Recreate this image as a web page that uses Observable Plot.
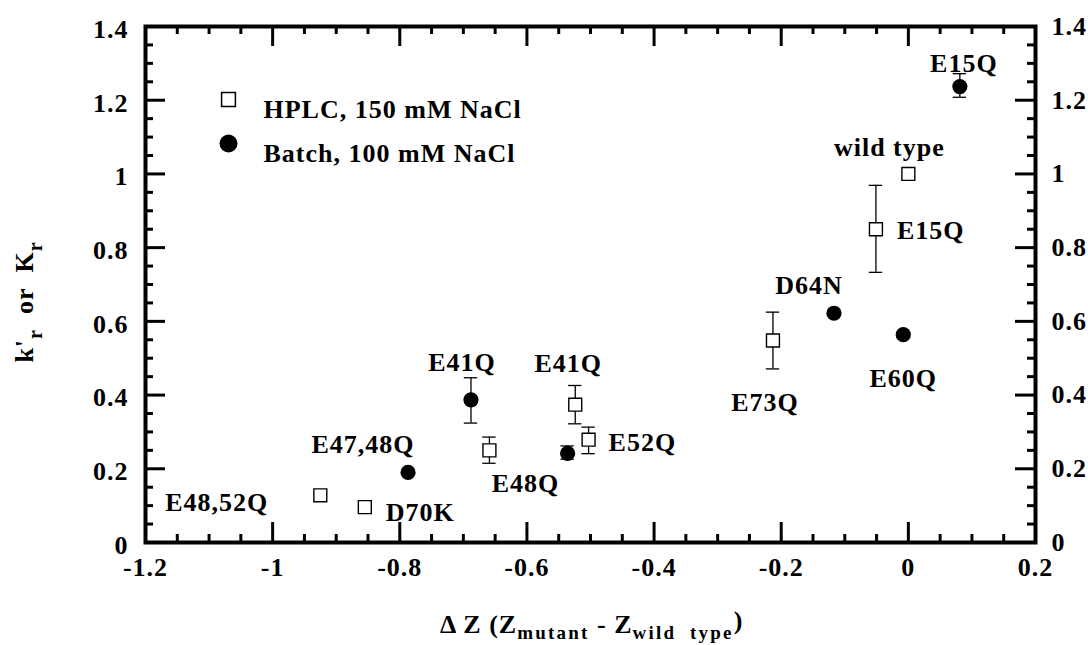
<!DOCTYPE html>
<html>
<head>
<meta charset="utf-8">
<script src="https://cdn.jsdelivr.net/npm/d3@7"></script>
<script src="https://cdn.jsdelivr.net/npm/@observablehq/plot@0.6"></script>
<style>
  html, body { margin: 0; padding: 0; background: white; }
</style>
</head>
<body>
<div id="chart"></div>
<script>
// ---- data ----
const hplcNames = ["E48,52Q", "D70K", "E48Q", "E41Q", "E52Q", "E73Q", "E15Q", "wild type"];
const hplcDZ    = [-0.925, -0.855, -0.659, -0.524, -0.503, -0.213, -0.051, 0.0];
const hplcK     = [0.128, 0.096, 0.250, 0.374, 0.279, 0.548, 0.850, 1.000];
const hplcLow   = [null, null, 0.215, 0.322, 0.241, 0.471, 0.733, null];
const hplcHigh  = [null, null, 0.286, 0.426, 0.313, 0.625, 0.969, null];

const batchNames = ["E47,48Q", "E41Q", "E48Q", "D64N", "E60Q", "E15Q"];
const batchDZ    = [-0.787, -0.688, -0.536, -0.117, -0.008, 0.081];
const batchK     = [0.190, 0.387, 0.242, 0.622, 0.564, 1.237];
const batchLow   = [null, 0.324, 0.226, null, null, 1.208];
const batchHigh  = [null, 0.447, 0.262, null, null, 1.272];

const xMajor = [-1.2, -1, -0.8, -0.6, -0.4, -0.2, 0, 0.2];
const xMinor = d3.range(-1.15, 0.2, 0.05).map(v => +v.toFixed(2)).filter(v => !xMajor.some(m => Math.abs(m - v) < 1e-6));
const yMajor = [0, 0.2, 0.4, 0.6, 0.8, 1, 1.2, 1.4];
const yMinor = d3.range(0.05, 1.4, 0.05).map(v => +v.toFixed(2)).filter(v => !yMajor.some(m => Math.abs(m - v) < 1e-6));

const legendLabels = ["HPLC, 150 mM NaCl", "Batch, 100 mM NaCl"];

// ---- build tables ----
const hplc = hplcNames.map((name, i) => ({name, x: hplcDZ[i], y: hplcK[i], lo: hplcLow[i], hi: hplcHigh[i]}));
const batch = batchNames.map((name, i) => ({name, x: batchDZ[i], y: batchK[i], lo: batchLow[i], hi: batchHigh[i]}));
const errs = [...hplc, ...batch].filter(d => d.lo != null);

const W = 1088, H = 645;
const mL = 145, mR = 53, mT = 26, mB = 103;
const innerH = H - mT - mB, innerW = W - mL - mR;
const majorLen = 20, minorLen = 8;
const capHalf = 0.0105;

function label(data, name, opts) {
  return Plot.text(data, {filter: d => d.name === name, x: "x", y: "y", text: "name", ...opts});
}

const svg = Plot.plot({
  width: W, height: H,
  marginLeft: mL, marginRight: mR, marginTop: mT, marginBottom: mB,
  x: {domain: [-1.2, 0.2], label: null},
  y: {domain: [0, 1.4], label: null},
  style: "font-family: 'Liberation Serif', serif; font-size: 26px; font-weight: bold; letter-spacing: 1px; background: white; color: black;",
  marks: [
    // tick marks (inward)
    Plot.tickX(xMajor, {x: d => d, insetTop: innerH - majorLen, stroke: "black", strokeWidth: 3}),
    Plot.tickX(xMajor, {x: d => d, insetBottom: innerH - majorLen, stroke: "black", strokeWidth: 3}),
    Plot.tickX(xMinor, {x: d => d, insetTop: innerH - minorLen, stroke: "black", strokeWidth: 3}),
    Plot.tickX(xMinor, {x: d => d, insetBottom: innerH - minorLen, stroke: "black", strokeWidth: 3}),
    Plot.tickY(yMajor, {y: d => d, insetRight: innerW - majorLen, stroke: "black", strokeWidth: 3}),
    Plot.tickY(yMajor, {y: d => d, insetLeft: innerW - majorLen, stroke: "black", strokeWidth: 3}),
    Plot.tickY(yMinor, {y: d => d, insetRight: innerW - minorLen, stroke: "black", strokeWidth: 3}),
    Plot.tickY(yMinor, {y: d => d, insetLeft: innerW - minorLen, stroke: "black", strokeWidth: 3}),
    Plot.frame({stroke: "black", strokeWidth: 4}),
    // axes labels
    Plot.axisX({ticks: xMajor, tickSize: 0, tickPadding: 15, tickFormat: d => String(d), label: null}),
    Plot.axisY({anchor: "left", ticks: yMajor, tickSize: 0, tickPadding: 17, dy: 3, tickFormat: d => String(d), label: null}),
    Plot.axisY({anchor: "right", ticks: yMajor, tickSize: 0, tickPadding: 16, tickFormat: d => String(d), label: null}),
    // error bars
    Plot.ruleX(errs, {x: "x", y1: "lo", y2: "hi", stroke: "black", strokeWidth: 1.3}),
    Plot.ruleY(errs, {y: "lo", x1: d => d.x - capHalf, x2: d => d.x + capHalf, stroke: "black", strokeWidth: 1.3}),
    Plot.ruleY(errs, {y: "hi", x1: d => d.x - capHalf, x2: d => d.x + capHalf, stroke: "black", strokeWidth: 1.3}),
    // points
    Plot.dot(hplc, {x: "x", y: "y", symbol: "square", r: 7.3, fill: "white", stroke: "black", strokeWidth: 1.4}),
    Plot.dot(batch, {x: "x", y: "y", r: 7.6, fill: "black", stroke: "none"}),
    // point labels
    label(hplc, "E48,52Q", {textAnchor: "end", dx: -52, dy: 7}),
    label(hplc, "D70K", {textAnchor: "start", dx: 21, dy: 6}),
    label(hplc, "E48Q", {dx: 36, dy: 33}),
    label(hplc, "E41Q", {dx: -7, dy: -41}),
    label(hplc, "E52Q", {textAnchor: "start", dx: 20, dy: 3}),
    label(hplc, "E73Q", {dx: -8, dy: 62}),
    label(hplc, "E15Q", {textAnchor: "start", dx: 21, dy: 1}),
    label(hplc, "wild type", {dx: -19, dy: -26}),
    label(batch, "E47,48Q", {dx: -45, dy: -28}),
    label(batch, "E41Q", {dx: -9, dy: -37}),
    label(batch, "D64N", {dx: -25, dy: -28}),
    label(batch, "E60Q", {dx: 0, dy: 44}),
    label(batch, "E15Q", {dx: 4, dy: -23}),
    // legend
    Plot.dot([legendLabels[0]], {frameAnchor: "top-left", dx: 83, dy: 73, symbol: "square", r: 7.8, fill: "white", stroke: "black", strokeWidth: 1.5}),
    Plot.dot([legendLabels[1]], {frameAnchor: "top-left", dx: 83, dy: 117, r: 9, fill: "black", stroke: "none"}),
    Plot.text([legendLabels[0]], {frameAnchor: "top-left", dx: 118, dy: 73, text: d => d, textAnchor: "start"}),
    Plot.text([legendLabels[1]], {frameAnchor: "top-left", dx: 118, dy: 117, text: d => d, textAnchor: "start"})
  ]
});

const s = d3.select(svg);
// x axis title with subscripts
const xt = s.append("text").attr("x", 440).attr("y", 633).attr("text-anchor", "start");
xt.append("tspan").text("Δ Z (Z");
xt.append("tspan").attr("dy", 6).style("font-size", "19px").style("letter-spacing", "2.2px").text("mutant");
xt.append("tspan").attr("dy", -6).text("\u00a0-\u00a0Z");
xt.append("tspan").attr("dy", 6).style("font-size", "19px").style("letter-spacing", "2.2px").text("wild\u00a0\u00a0type");
xt.append("tspan").attr("dy", -10).text(")");

// y axis title with subscripts
const yt = s.append("text").attr("transform", "translate(33,302) rotate(-90)").attr("text-anchor", "middle");
yt.append("tspan").text("k'");
yt.append("tspan").attr("dy", 9).style("font-size", "20px").text("r");
yt.append("tspan").attr("dy", -9).text("\u00a0\u00a0or\u00a0\u00a0K");
yt.append("tspan").attr("dy", 9).style("font-size", "20px").text("r");

document.getElementById("chart").appendChild(svg);
</script>
</body>
</html>
